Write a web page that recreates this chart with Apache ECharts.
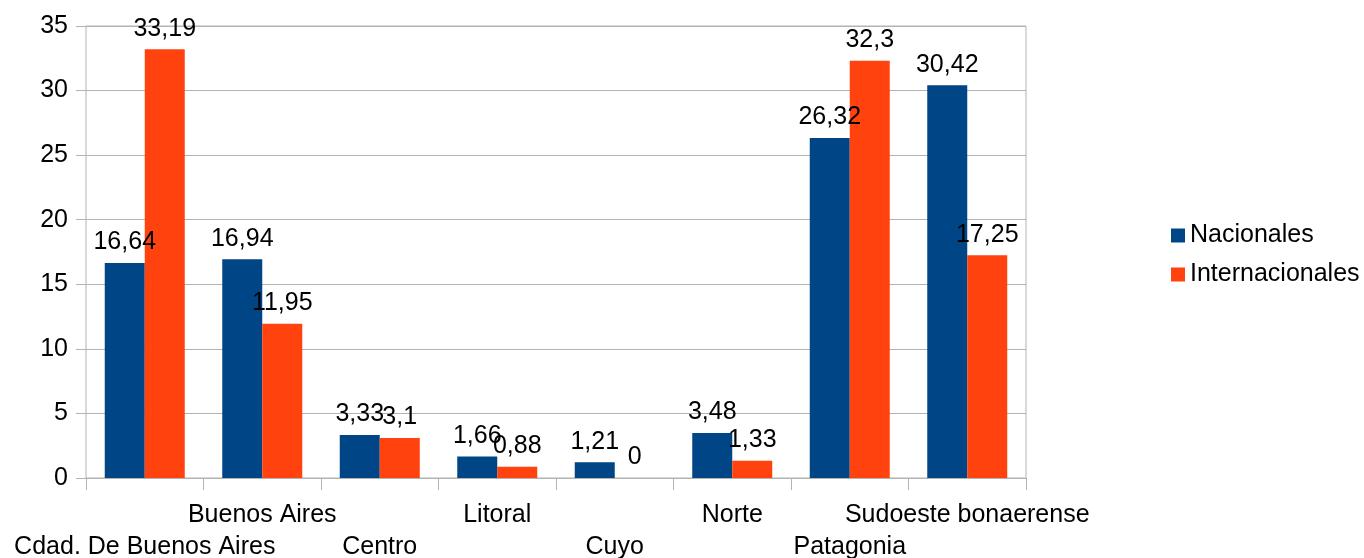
<!DOCTYPE html>
<html><head><meta charset="utf-8">
<script src="https://cdn.jsdelivr.net/npm/echarts@6/dist/echarts.min.js"></script>
<style>html,body{margin:0;padding:0;background:#fff}#c{width:1364px;height:558px}</style>
</head><body><div id="c"></div>
<script>
const categories = ["Cdad. De Buenos Aires","Buenos Aires","Centro","Litoral","Cuyo","Norte","Patagonia","Sudoeste bonaerense"];
const nacionales = [16.64,16.94,3.33,1.66,1.21,3.48,26.32,30.42];
const internacionales = [33.19,11.95,3.1,0.88,0,1.33,32.3,17.25];
const yTicks = {min:0, max:35, interval:5};
const font = "'Liberation Sans', Arial, sans-serif";
const FS = 25;
const fmt = p => String(p.value).replace('.', ',');
const lbl = {show:true, position:'top', distance:8, color:'#000', fontSize:FS, fontFamily:font, formatter:fmt};
const chart = echarts.init(document.getElementById('c'));
chart.setOption({
  animation:false,
  textStyle:{fontFamily:font},
  grid:{left:86, right:338, top:26, bottom:80, show:true, borderColor:'#b3b3b3', borderWidth:1, backgroundColor:'transparent', containLabel:false, outerBoundsMode:'none'},
  legend:{orient:'vertical', left:1166, top:218, itemWidth:14, itemHeight:14, itemGap:14,
    textStyle:{fontSize:FS, color:'#000', fontFamily:font}, icon:'rect', itemStyle:{borderWidth:0},
    data:['Nacionales','Internacionales']},
  xAxis:{type:'category', data:categories,
    axisLine:{lineStyle:{color:'#b3b3b3'}},
    axisTick:{show:true, length:12, lineStyle:{color:'#b3b3b3'}, alignWithLabel:false},
    axisLabel:{interval:0, margin:21, color:'#000', fontSize:FS, fontFamily:font, lineHeight:32,
      formatter:(v,i)=> i%2===0 ? '\n'+v : v}},
  yAxis:{type:'value', min:yTicks.min, max:yTicks.max, interval:yTicks.interval,
    axisLine:{show:false},
    axisTick:{show:true, length:10, lineStyle:{color:'#b3b3b3'}},
    splitLine:{lineStyle:{color:'#b3b3b3'}},
    axisLabel:{margin:18, color:'#000', fontSize:FS, fontFamily:font}},
  series:[
    {name:'Nacionales', type:'bar', data:nacionales, barWidth:40, barGap:'0%', itemStyle:{color:'#004586'}, label:lbl},
    {name:'Internacionales', type:'bar', data:internacionales, barWidth:40, barGap:'0%', itemStyle:{color:'#ff420e'}, label:lbl}
  ]
});
</script></body></html>
